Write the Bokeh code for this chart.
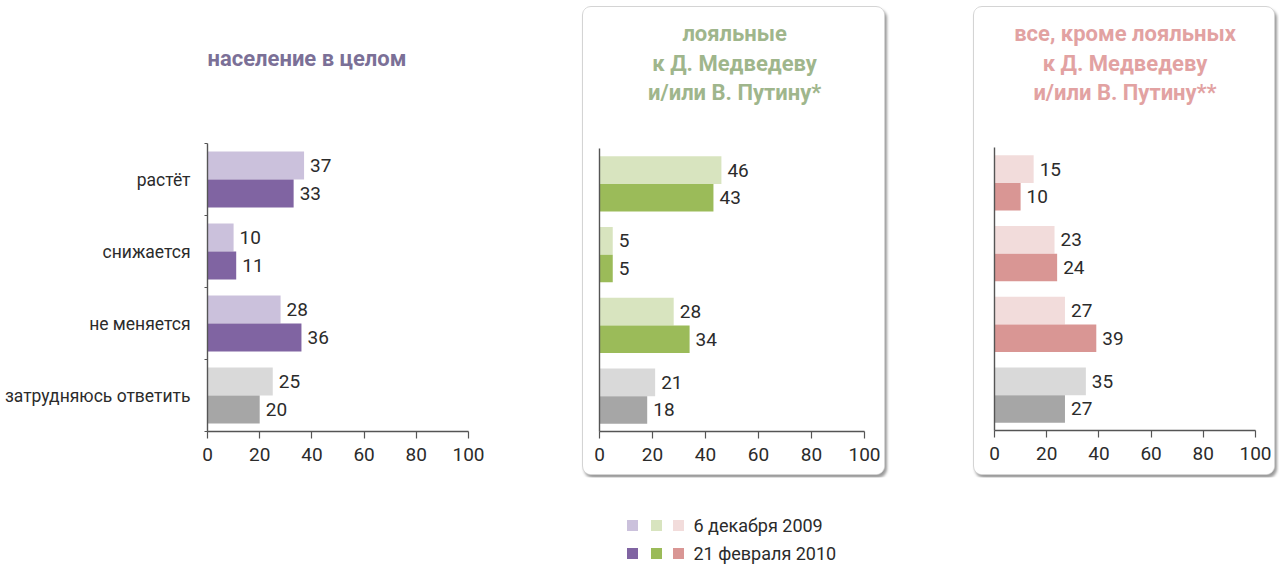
from bokeh.plotting import figure
from bokeh.models import Range1d, FixedTicker, ColumnDataSource, Spacer
from bokeh.layouts import row, column
from bokeh.embed import file_html
from bokeh.resources import INLINE
from bokeh.core.properties import value

# ---------------- data ----------------
categories = ["растёт", "снижается", "не меняется", "затрудняюсь ответить"]
pop_2009 = [37, 10, 28, 25]
pop_2010 = [33, 11, 36, 20]
loyal_2009 = [46, 5, 28, 21]
loyal_2010 = [43, 5, 34, 18]
other_2009 = [15, 23, 27, 35]
other_2010 = [10, 24, 39, 27]
x_ticks = [0, 20, 40, 60, 80, 100]
title_pop = ["население в целом"]
title_loyal = ["лояльные", "к Д. Медведеву", "и/или В. Путину*"]
title_other = ["все, кроме лояльных", "к Д. Медведеву", "и/или В. Путину**"]
legend_labels = ["6 декабря 2009", "21 февраля 2010"]

# ---------------- style ----------------
FONT = "Roboto"
TXT = "#2b2b2b"
AXIS = "#555555"
GREY_L, GREY_D = "#d9d9d9", "#a6a6a6"
PURPLE_L, PURPLE_D = "#cbc1dc", "#8064a2"
GREEN_L, GREEN_D = "#d8e4bf", "#9bbb59"
PINK_L, PINK_D = "#f2dcdb", "#d99694"
BOX_STYLE = {"border": "1px solid #d4d4d4", "border-radius": "9px",
             "box-shadow": "2px 3px 3px rgba(0,0,0,0.40)", "overflow": "hidden",
             "background-color": "white"}

N = len(categories)
centers = [N - 0.5 - i for i in range(N)]
BAR_H = 0.39


def make_panel(v09, v10, col_l, col_d, title_lines, title_color, width, height,
               left, right, chart_top, chart_h, show_cats, title_x, title_align,
               title_rise, styles=None):
    bottom = height - chart_top - chart_h
    ppu = chart_h / N                       # pixels per category band
    y_top = N + chart_top / ppu             # frame reaches canvas top
    p = figure(width=width, height=height, output_backend="svg", toolbar_location=None,
               x_range=Range1d(0, 100), y_range=Range1d(0, y_top),
               min_border_left=left, min_border_right=right,
               min_border_top=0, min_border_bottom=bottom)
    if styles:
        p.styles = styles
    p.outline_line_color = None
    p.xgrid.visible = False
    p.ygrid.visible = False
    p.background_fill_color = "white"
    p.border_fill_color = "white"

    ys, vals, cols = [], [], []
    for i in range(N):
        grey = (i == N - 1)
        ys += [centers[i] + BAR_H / 2, centers[i] - BAR_H / 2]
        vals += [v09[i], v10[i]]
        cols += [GREY_L if grey else col_l, GREY_D if grey else col_d]
    src = ColumnDataSource(dict(y=ys, v=vals, c=cols, t=[str(v) for v in vals]))
    p.hbar(y="y", left=0, right="v", height=BAR_H, fill_color="c", line_color=None, source=src)
    p.text(x="v", y="y", text="t", x_offset=6, text_baseline="middle", text_align="left",
           text_font=value(FONT), text_font_size="19px", text_color=TXT, source=src)

    xa = p.xaxis[0]
    xa.ticker = FixedTicker(ticks=x_ticks)
    xa.axis_line_color = AXIS
    xa.axis_line_width = 1.4
    xa.major_tick_line_color = AXIS
    xa.major_tick_line_width = 1.2
    xa.major_tick_in = 0
    xa.major_tick_out = 7
    xa.minor_tick_line_color = None
    xa.major_label_standoff = 9
    xa.major_label_text_font = FONT
    xa.major_label_text_font_size = "19px"
    xa.major_label_text_color = TXT

    ya = p.yaxis[0]
    ya.bounds = (0, N)
    ya.axis_line_color = AXIS
    ya.axis_line_width = 1.4
    if show_cats:
        ya.ticker = FixedTicker(ticks=centers, minor_ticks=[float(k) for k in range(N + 1)])
        ya.major_label_overrides = {c: categories[i] for i, c in enumerate(centers)}
        ya.major_tick_line_color = None
        ya.minor_tick_line_color = AXIS
        ya.minor_tick_in = 0
        ya.minor_tick_out = 3
        ya.major_label_standoff = 11
        ya.major_label_text_font = FONT
        ya.major_label_text_font_size = "17.5px"
        ya.major_label_text_color = TXT
    else:
        ya.ticker = FixedTicker(ticks=[])
        ya.major_tick_line_color = None
        ya.minor_tick_line_color = None

    # titles: rise in pixels above the top of the chart area
    p.text(x=[title_x] * len(title_lines), y=[N + r / ppu for r in title_rise],
           text=title_lines, text_align=title_align, text_baseline="middle",
           text_font=value(FONT), text_font_style="bold", text_font_size="22px",
           text_color=title_color)
    return p


# panel 1: canvas x 0..582, chart x 207..468, chart y 143..431
p1 = make_panel(pop_2009, pop_2010, PURPLE_L, PURPLE_D, title_pop, "#7b7097",
                582, 477, 207, 114, 143, 288, True, 0, "left", [85])
# panel 2: box x 582..887, y 6..477 (1px border), chart x 599..864, y 148..431
p2 = make_panel(loyal_2009, loyal_2010, GREEN_L, GREEN_D, title_loyal, "#9fb68c",
                303, 469, 16, 22, 141, 283, False, 51, "center", [115, 85, 56], BOX_STYLE)
# panel 3: box x 973..1277, chart x 994..1255, y 147..430
p3 = make_panel(other_2009, other_2010, PINK_L, PINK_D, title_other, "#e2a2a2",
                302, 469, 20, 21, 140, 283, False, 50, "center", [114, 84, 55], BOX_STYLE)

# ---------------- legend strip ----------------
leg = figure(width=1277, height=88, output_backend="svg", toolbar_location=None,
             x_range=Range1d(0, 1277), y_range=Range1d(565, 477),
             x_axis_location=None, y_axis_location=None,
             min_border_left=0, min_border_right=0, min_border_top=0, min_border_bottom=0)
leg.outline_line_color = None
leg.xgrid.visible = False
leg.ygrid.visible = False
sq_x = [632, 656, 678]
row_y = [525, 553]
row_cols = [[PURPLE_L, GREEN_L, PINK_L], [PURPLE_D, GREEN_D, PINK_D]]
for r in range(2):
    leg.scatter(x=sq_x, y=[row_y[r]] * 3, marker="square", size=11,
                fill_color=row_cols[r], line_color=None)
    leg.text(x=[693], y=[row_y[r]], text=[legend_labels[r]], text_baseline="middle",
             text_align="left", text_font=value(FONT), text_font_size="18px", text_color=TXT)

top_row = row(p1,
              column(Spacer(width=305, height=6), p2),
              Spacer(width=86, height=477),
              column(Spacer(width=304, height=6), p3))
layout = column(top_row, leg)

open("out.html", "w").write(file_html(layout, INLINE))
